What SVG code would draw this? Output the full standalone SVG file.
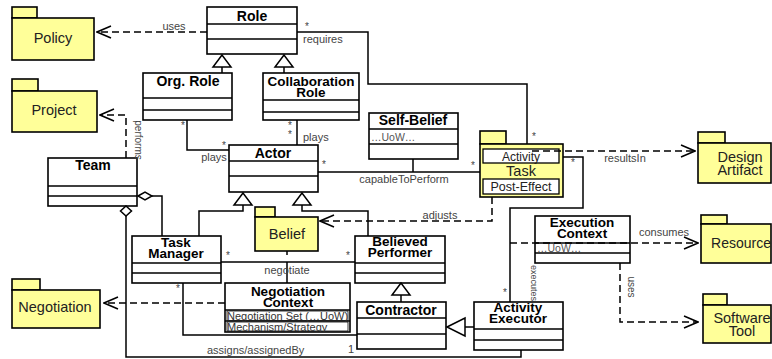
<svg xmlns="http://www.w3.org/2000/svg" width="772" height="359" viewBox="0 0 772 359">
<style>
.c{fill:#fff;stroke:#000;stroke-width:1.6}
.p{fill:#ffff99;stroke:#000;stroke-width:1.6}
.ln{stroke:#000;stroke-width:1.5;fill:none}
.ib{fill:#fff;stroke:#000;stroke-width:1.3}
.n{font-family:"Liberation Sans",Arial,sans-serif;font-size:14px;font-weight:bold;fill:#000;text-anchor:middle}
.n2{font-family:"Liberation Sans",Arial,sans-serif;font-size:13.5px;font-weight:bold;fill:#000;text-anchor:middle}
.pk{font-family:"Liberation Sans",Arial,sans-serif;font-size:14.5px;fill:#222;text-anchor:middle}
.l{font-family:"Liberation Sans",Arial,sans-serif;font-size:11px;fill:#444}
.s{font-family:"Liberation Sans",Arial,sans-serif;font-size:10px;fill:#444}
.a{font-family:"Liberation Sans",Arial,sans-serif;font-size:11px;fill:#333}
.w{stroke:#000;stroke-width:1.5;fill:none}
.d{stroke:#000;stroke-width:1.5;fill:none;stroke-dasharray:7,4;marker-end:url(#oa)}
.g{fill:#fff;stroke:#000;stroke-width:1.5}
</style>
<defs>
<marker id="oa" markerUnits="userSpaceOnUse" markerWidth="16" markerHeight="14" viewBox="0 0 16 14" refX="15" refY="7" orient="auto">
<path d="M1,1 L15,7 L1,13" fill="none" stroke="#000" stroke-width="1.5"/>
</marker>
</defs>
<rect width="772" height="359" fill="#fff"/>

<g id="Policy"><rect class="p" x="12" y="7" width="25" height="11"/><rect class="p" x="12" y="18" width="82" height="42"/><text class="pk" x="53" y="43">Policy</text></g>
<g id="Project"><rect class="p" x="12" y="79" width="26" height="12"/><rect class="p" x="12" y="91" width="85" height="41"/><text class="pk" x="54" y="115">Project</text></g>
<g id="Negotiation"><rect class="p" x="12" y="279" width="28" height="11"/><rect class="p" x="12" y="290" width="88" height="38"/><text class="pk" x="55" y="312">Negotiation</text></g>
<g id="Belief"><rect class="p" x="255" y="207" width="20" height="10"/><rect class="p" x="255" y="217" width="63" height="34"/><text class="pk" x="287" y="239">Belief</text></g>
<g id="DesignArtifact"><rect class="p" x="698" y="132" width="27" height="11"/><rect class="p" x="698" y="143" width="73" height="40"/><text class="pk" x="740" y="162">Design</text><text class="pk" x="740" y="175">Artifact</text></g>
<g id="Resource"><rect class="p" x="701" y="215" width="26" height="9"/><rect class="p" x="701" y="224" width="70" height="39"/><text class="pk" style="font-size:14px" x="741" y="248">Resource</text></g>
<g id="SoftwareTool"><rect class="p" x="703" y="294" width="24" height="11"/><rect class="p" x="703" y="305" width="68" height="38"/><text class="pk" x="742" y="323">Software</text><text class="pk" x="742" y="336">Tool</text></g>
<g id="Task"><rect class="p" x="480" y="131" width="26" height="13"/><rect class="p" x="480" y="144" width="83" height="53"/>
<rect class="ib" x="483" y="149" width="76" height="14"/><text class="pk" style="font-size:12px" x="521" y="161">Activity</text>
<text class="pk" x="521" y="176">Task</text>
<rect class="ib" x="483" y="179" width="76" height="15"/><text class="pk" style="font-size:12.5px" x="521" y="191">Post-Effect</text></g>

<g id="Role"><rect class="c" x="207" y="7" width="90" height="47"/><path class="ln" d="M207,24H297M207,39H297"/><text class="n" x="252" y="21">Role</text></g>
<g id="OrgRole"><rect class="c" x="143" y="73" width="89" height="47"/><path class="ln" d="M143,98H232M143,110H232"/><text class="n" x="188" y="86">Org. Role</text></g>
<g id="CollaborationRole"><rect class="c" x="263" y="73" width="96" height="47"/><path class="ln" d="M263,100H359M263,112H359"/><text class="n2" x="311" y="86">Collaboration</text><text class="n2" x="311" y="97">Role</text></g>
<g id="SelfBelief"><rect class="c" x="369" y="113" width="89" height="46"/><path class="ln" d="M369,129H458M369,144H458"/><text class="n" x="413" y="125">Self-Belief</text><text class="s" style="font-size:10.5px;fill:#555" x="371" y="141">…UoW…</text></g>
<g id="Actor"><rect class="c" x="229" y="145" width="89" height="47"/><path class="ln" d="M229,161H318M229,176H318"/><text class="n" x="273" y="158">Actor</text></g>
<g id="Team"><rect class="c" x="48" y="158" width="89" height="48"/><path class="ln" d="M48,186H137M48,196H137"/><text class="n" x="93" y="170">Team</text></g>
<g id="TaskManager"><rect class="c" x="132" y="236" width="89" height="47"/><path class="ln" d="M132,263H221M132,273H221"/><text class="n2" x="176" y="247">Task</text><text class="n2" x="176" y="258">Manager</text></g>
<g id="BelievedPerformer"><rect class="c" x="355" y="236" width="90" height="47"/><path class="ln" d="M355,263H445M355,273H445"/><text class="n2" x="400" y="246">Believed</text><text class="n2" x="400" y="257">Performer</text></g>
<g id="NegotiationContext"><rect class="c" x="225" y="283" width="125" height="49"/><path class="ln" d="M225,310H350M225,321H350"/><rect class="ib" x="227" y="311" width="121" height="9.5" style="stroke-width:0.8"/><rect class="ib" x="227" y="322" width="121" height="9" style="stroke-width:0.8"/><text class="n2" x="288" y="296">Negotiation</text><text class="n2" x="288" y="307">Context</text><text class="a" x="227" y="319.5">Negotiation Set (…UoW)</text><text class="a" x="227" y="330.5">Mechanism/Strategy</text></g>
<g id="Contractor"><rect class="c" x="357" y="302" width="89" height="47"/><path class="ln" d="M357,318H446M357,334H446"/><text class="n" x="401" y="315">Contractor</text></g>
<g id="ActivityExecutor"><rect class="c" x="474" y="302" width="89" height="48"/><path class="ln" d="M474,329H563M474,340H563"/><text class="n2" x="518" y="312">Activity</text><text class="n2" x="518" y="323">Executor</text></g>
<g id="ExecutionContext"><rect class="c" x="535" y="216" width="95" height="47"/><path class="ln" d="M535,243H630M535,253H630"/><text class="n2" x="582" y="227">Execution</text><text class="n2" x="582" y="238">Context</text><text class="s" style="font-size:10.5px;fill:#555" x="537" y="252">…UoW…</text></g>

<g id="connectors">
<path class="d" d="M207,32H97"/>
<text class="l" x="174" y="30" text-anchor="middle">uses</text>
<path class="w" d="M297,32H368V84H527V144"/>
<text class="s" x="307" y="30" text-anchor="middle">*</text>
<text class="l" x="303" y="43">requires</text>
<text class="s" x="534" y="140" text-anchor="middle">*</text>
<path class="w" d="M222,67V73M284,67V73"/>
<polygon class="g" points="222,55 213,67 231,67"/>
<polygon class="g" points="284,55 275,67 293,67"/>
<path class="w" d="M187,120V150H229"/>
<text class="s" x="183" y="129" text-anchor="middle">*</text>
<text class="s" x="224" y="149" text-anchor="middle">*</text>
<text class="l" x="214" y="161" text-anchor="middle">plays</text>
<path class="w" d="M297,120V145"/>
<text class="s" x="290" y="129" text-anchor="middle">*</text>
<text class="s" x="290" y="138" text-anchor="middle">*</text>
<text class="l" x="303" y="141">plays</text>
<path class="w" d="M318,172H480M413,159V172"/>
<text class="s" x="324" y="168" text-anchor="middle">*</text>
<text class="s" x="473" y="169" text-anchor="middle">*</text>
<text class="l" x="404" y="183" text-anchor="middle">capableToPerform</text>
<path class="w" d="M199,236V211H243V205M368,236V211H302V205"/>
<polygon class="g" points="243,193 234,205 252,205"/>
<polygon class="g" points="302,193 293,205 311,205"/>
<path class="d" d="M126,158V115H100"/>
<text class="s" transform="translate(135,140) rotate(90)" text-anchor="middle">performs</text>
<path class="w" d="M152,196H162V236"/>
<polygon class="g" points="138,196 145,192 152,196 145,200"/>
<path class="w" d="M126,216V357H521V350"/>
<polygon class="g" points="126,206 131.5,211 126,216 120.5,211"/>
<path class="w" d="M221,262H355M287,262V283M287,251V255"/>
<text class="s" x="228" y="259" text-anchor="middle">*</text>
<text class="s" x="348" y="259" text-anchor="middle">*</text>
<text class="l" x="287" y="274" text-anchor="middle">negotiate</text>
<path class="d" d="M225,303H104"/>
<path class="w" d="M183,283V335H357"/>
<text class="s" x="178" y="292" text-anchor="middle">*</text>
<text class="l" x="207" y="354">assigns/assignedBy</text>
<text class="l" x="351" y="353" text-anchor="middle">1</text>
<path class="w" d="M401,295V302"/>
<polygon class="g" points="401,283 392,295 410,295"/>
<path class="w" d="M465,327H474"/>
<polygon class="g" points="447,327 465,318 465,336"/>
<path class="w" d="M510,302V208H583V157H563"/>
<text class="s" x="505" y="296" text-anchor="middle">*</text>
<text class="s" x="573" y="166" text-anchor="middle">*</text>
<text class="s" style="font-size:9px" transform="translate(531,283) rotate(90)" text-anchor="middle">executes</text>
<path class="d" d="M510,243H698"/>
<text class="l" x="664" y="236" text-anchor="middle">consumes</text>
<path class="d" d="M620,263V322H698"/>
<text class="s" transform="translate(628,287) rotate(90)" text-anchor="middle">uses</text>
<path class="d" d="M532,151H695"/>
<text class="l" x="625" y="162" text-anchor="middle">resultsIn</text>
<path class="d" d="M492,197V221H320"/>
<text class="l" x="440" y="219" text-anchor="middle">adjusts</text>
</g>
</svg>
